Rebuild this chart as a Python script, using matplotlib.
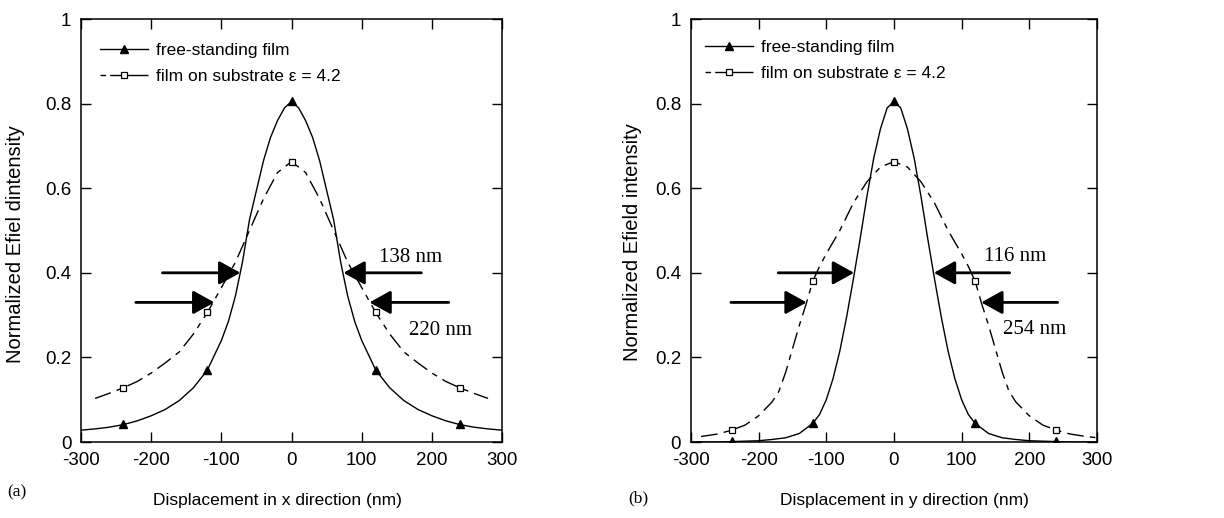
import matplotlib.pyplot as plt
from matplotlib.lines import Line2D

plt.rcParams['font.family'] = ['Liberation Sans', 'DejaVu Sans']
plt.rcParams['font.size'] = 12.5
plt.rcParams['axes.unicode_minus'] = False

# ---- panel (a): x direction ----
xa_free = [-300, -280, -260, -240, -220, -200, -180, -160, -140, -120, -100, -90, -80, -70, -60, -50, -40, -30, -20, -10, 0,
           10, 20, 30, 40, 50, 60, 70, 80, 90, 100, 120, 140, 160, 180, 200, 220, 240, 260, 280, 300]
ya_free = [0.028, 0.031, 0.035, 0.041, 0.050, 0.062, 0.077, 0.098, 0.128, 0.170, 0.240, 0.285, 0.345, 0.425, 0.525, 0.595,
           0.665, 0.720, 0.760, 0.790, 0.805,
           0.790, 0.760, 0.720, 0.665, 0.595, 0.525, 0.425, 0.345, 0.285, 0.240, 0.170, 0.128, 0.098, 0.077, 0.062,
           0.050, 0.041, 0.035, 0.031, 0.028]
xa_sub = [-280, -260, -240, -220, -200, -180, -160, -140, -120, -100, -80, -60, -40, -20, 0,
          20, 40, 60, 80, 100, 120, 140, 160, 180, 200, 220, 240, 260, 280]
ya_sub = [0.103, 0.115, 0.128, 0.143, 0.163, 0.187, 0.213, 0.255, 0.306, 0.365, 0.425, 0.500, 0.575, 0.637, 0.663,
          0.637, 0.575, 0.500, 0.425, 0.365, 0.306, 0.255, 0.213, 0.187, 0.163, 0.143, 0.128, 0.115, 0.103]

# ---- panel (b): y direction ----
xb_free = [-300, -260, -240, -220, -200, -180, -160, -140, -120, -110, -100, -90, -80, -70, -60, -50, -40, -30, -20, -10, 0,
           10, 20, 30, 40, 50, 60, 70, 80, 90, 100, 110, 120, 140, 160, 180, 200, 220, 240, 260, 300]
yb_free = [0.0, 0.0, 0.001, 0.002, 0.003, 0.006, 0.010, 0.020, 0.044, 0.065, 0.100, 0.150, 0.215, 0.295, 0.385, 0.480,
           0.580, 0.670, 0.740, 0.790, 0.805,
           0.790, 0.740, 0.670, 0.580, 0.480, 0.385, 0.295, 0.215, 0.150, 0.100, 0.065, 0.044, 0.020, 0.010, 0.006,
           0.003, 0.002, 0.001, 0.0, 0.0]
xb_sub = [-285, -260, -240, -220, -200, -180, -170, -160, -150, -140, -130, -120, -110, -100, -80, -60, -40, -20, 0,
          20, 40, 60, 80, 100, 110, 120, 130, 140, 150, 160, 170, 180, 200, 220, 240, 260, 280, 300]
yb_sub = [0.013, 0.019, 0.028, 0.040, 0.062, 0.095, 0.120, 0.165, 0.220, 0.275, 0.325, 0.380, 0.415, 0.445, 0.500,
          0.565, 0.615, 0.650, 0.663,
          0.650, 0.615, 0.565, 0.500, 0.445, 0.415, 0.380, 0.325, 0.275, 0.220, 0.165, 0.120, 0.095, 0.062, 0.040,
          0.028, 0.019, 0.014, 0.010]

# markers
mark_x = [-240, -120, 0, 120, 240]
ma_free = [0.042, 0.170, 0.805, 0.170, 0.042]
ma_sub = [0.127, 0.307, 0.663, 0.307, 0.127]
mb_free = [0.002, 0.045, 0.805, 0.045, 0.002]
mb_sub = [0.028, 0.380, 0.663, 0.380, 0.028]

labels = ['free-standing film', 'film on substrate \u03b5 = 4.2']

dash = (12, 4.5, 4, 4.5)

fig = plt.figure(figsize=(12.24, 5.18), dpi=100)
ax_a = fig.add_axes([0.0662, 0.1467, 0.344, 0.8166])
ax_b = fig.add_axes([0.5645, 0.1467, 0.3317, 0.8166])


def draw(ax, xf, yf, xs, ys, mf, ms):
    ax.plot(xf, yf, color='black', lw=1.0)
    ax.plot(xs, ys, color='black', lw=1.0, dashes=dash)
    ax.plot(mark_x, mf, ls='none', marker='^', ms=6, color='black')
    ax.plot(mark_x, ms, ls='none', marker='s', ms=5, mfc='white', mec='black', mew=0.9)
    ax.set_xlim(-300, 300)
    ax.set_ylim(0, 1)
    ax.set_xticks([-300, -200, -100, 0, 100, 200, 300])
    ax.set_yticks([0, 0.2, 0.4, 0.6, 0.8, 1])
    ax.set_yticklabels(['0', '0.2', '0.4', '0.6', '0.8', '1'])
    ax.tick_params(direction='in', top=True, right=True, length=7, width=1, pad=7, labelsize=13.5)
    for s in ax.spines.values():
        s.set_linewidth(1.1)


def arrow(ax, tail, tip):
    ax.annotate('', xy=tip, xytext=tail,
                arrowprops=dict(arrowstyle='-|>,head_length=0.65,head_width=0.36', lw=2.0,
                                color='black', mutation_scale=20, shrinkA=0, shrinkB=0))


def legend(ax, anchor):
    handles = [Line2D([], [], color='black', lw=1.0, marker='^', ms=6),
               Line2D([], [], color='black', lw=1.0, dashes=(4, 3, 30, 1), marker='s', ms=5, mfc='white', mew=0.9)]
    ax.legend(handles, labels, loc='upper left', bbox_to_anchor=anchor, frameon=False, numpoints=1,
              handlelength=2.77, handletextpad=0.45, labelspacing=0.6, borderpad=0, borderaxespad=0,
              fontsize=12.5)


# panel (a)
draw(ax_a, xa_free, ya_free, xa_sub, ya_sub, ma_free, ma_sub)
legend(ax_a, (0.045, 0.943))
ax_a.set_xlabel('Displacement in x direction (nm)', fontsize=12.5)
ax_a.set_ylabel('Normalized Efiel dintensity', fontsize=14.5)
ax_a.xaxis.set_label_coords(0.466, -0.12)
ax_a.yaxis.set_label_coords(-0.133, 0.468)
arrow(ax_a, (-184, 0.4), (-73, 0.4))
arrow(ax_a, (-222, 0.33), (-110, 0.33))
arrow(ax_a, (185, 0.4), (74, 0.4))
arrow(ax_a, (224, 0.33), (111, 0.33))
ax_a.text(169, 0.436, '138 nm', family='Liberation Serif', fontsize=15, ha='center', va='center')
ax_a.text(212, 0.263, '220 nm', family='Liberation Serif', fontsize=15, ha='center', va='center')

# panel (b)
draw(ax_b, xb_free, yb_free, xb_sub, yb_sub, mb_free, mb_sub)
legend(ax_b, (0.034, 0.95))
ax_b.set_xlabel('Displacement in y direction (nm)', fontsize=12.5)
ax_b.set_ylabel('Normalized Efield intensity', fontsize=14.5)
ax_b.xaxis.set_label_coords(0.525, -0.12)
ax_b.yaxis.set_label_coords(-0.121, 0.473)
arrow(ax_b, (-171, 0.4), (-59, 0.4))
arrow(ax_b, (-241, 0.33), (-129, 0.33))
arrow(ax_b, (171, 0.4), (59, 0.4))
arrow(ax_b, (242, 0.33), (129, 0.33))
ax_b.text(179, 0.439, '116 nm', family='Liberation Serif', fontsize=15, ha='center', va='center')
ax_b.text(208, 0.266, '254 nm', family='Liberation Serif', fontsize=15, ha='center', va='center')

fig.text(7 / 1224, 1 - 492 / 518, '(a)', family='Liberation Serif', fontsize=12.5, ha='left', va='center')
fig.text(628 / 1224, 1 - 498 / 518, '(b)', family='Liberation Serif', fontsize=12.5, ha='left', va='center')

fig.savefig('out.png', dpi=100)
